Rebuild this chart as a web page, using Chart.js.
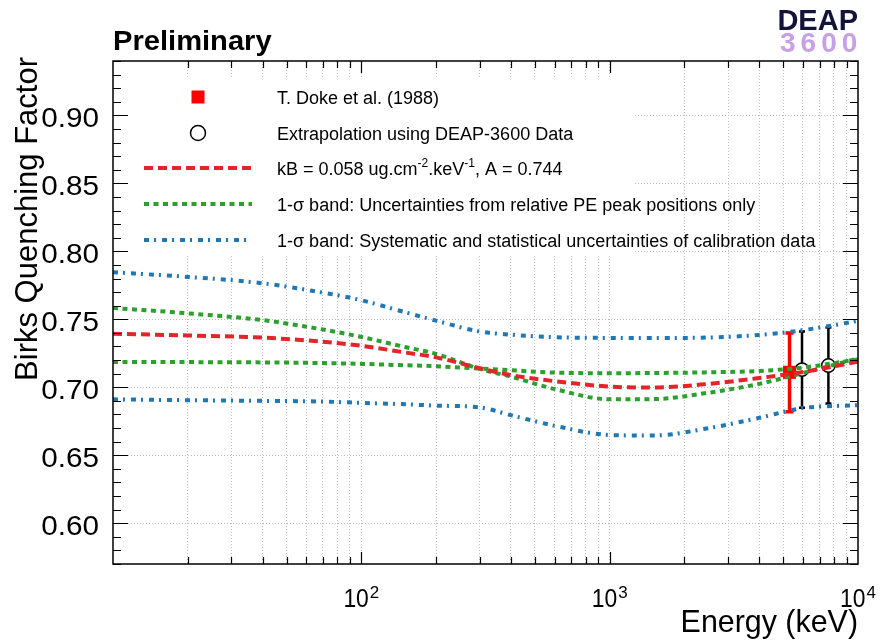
<!DOCTYPE html>
<html>
<head>
<meta charset="utf-8">
<script src="https://cdn.jsdelivr.net/npm/chart.js@4.4.1/dist/chart.umd.min.js"></script>
<style>
  html, body { margin: 0; padding: 0; background: #fff; }
  canvas { display: block; }
</style>
</head>
<body>
<canvas id="c" width="882" height="641"></canvas>
<script>
const energy = [10, 20, 40, 70, 100, 150, 200, 300, 400, 600, 1000, 1500, 2500, 4000, 6000, 10000];
const birksFit = [0.7394, 0.7381, 0.7365, 0.7335, 0.7305, 0.7256, 0.7220, 0.7140, 0.7090, 0.7045, 0.7005, 0.6998, 0.7025, 0.7068, 0.7112, 0.7188];
const peakBandA = [0.7583, 0.7544, 0.7494, 0.7425, 0.7370, 0.7296, 0.7245, 0.7135, 0.7078, 0.6987, 0.6912, 0.6913, 0.6960, 0.7025, 0.7105, 0.7212];
const peakBandB = [0.7185, 0.7185, 0.7183, 0.7178, 0.7172, 0.7162, 0.7155, 0.7137, 0.7125, 0.7108, 0.7103, 0.7105, 0.7110, 0.7120, 0.7145, 0.7205];
const calibBandUp = [0.7846, 0.7812, 0.7765, 0.7696, 0.7640, 0.7552, 0.7490, 0.7410, 0.7387, 0.7368, 0.7363, 0.7362, 0.7366, 0.7385, 0.7420, 0.7488];
const calibBandLow = [0.6911, 0.6905, 0.6900, 0.6895, 0.6885, 0.6875, 0.6865, 0.6852, 0.6795, 0.6717, 0.6649, 0.6645, 0.6699, 0.6775, 0.6847, 0.6868];

// measured points
const dokeEnergy = [5300];
const dokeValue = [0.711];
const dokeError = [0.029];
const extrapEnergy = [5950, 7600];
const extrapValue = [0.713, 0.716];
const extrapError = [0.028, 0.028];

// axes
const xTicks = [20, 30, 40, 50, 60, 70, 80, 90, 100, 200, 300, 400, 500, 600, 700, 800, 900,
                1000, 2000, 3000, 4000, 5000, 6000, 7000, 8000, 9000];
const xMajor = [100, 1000];
const xLabelValues = [100, 1000, 10000];
const xLabelExps = ['2', '3', '4'];
const yTicks = [0.60, 0.65, 0.70, 0.75, 0.80, 0.85, 0.90];
const yLabels = ['0.60', '0.65', '0.70', '0.75', '0.80', '0.85', '0.90'];

const FONT = "'Liberation Sans', Arial, Helvetica, sans-serif";
const RED = '#e5232a', GREEN = '#2ca02c', BLUE = '#1f77b4';

function pts(xs, ys) {
  return xs.map((x, i) => ({ x: x, y: ys[i] }));
}

function txt(ctx, s, x, y, size, o) {
  o = o || {};
  ctx.save();
  ctx.font = (o.bold ? 'bold ' : '') + size + 'px ' + FONT;
  ctx.fillStyle = o.color || '#000';
  ctx.textAlign = o.align || 'left';
  ctx.textBaseline = 'alphabetic';
  if (o.spacing) ctx.letterSpacing = o.spacing + 'px';
  ctx.translate(x, y);
  if (o.rotate) ctx.rotate(o.rotate);
  ctx.scale(o.sx || 1, 1);
  ctx.fillText(s, 0, 0);
  const w = ctx.measureText(s).width * (o.sx || 1);
  ctx.restore();
  return w;
}

const curve = (label, data, color, dash) => ({
  label: label,
  data: pts(energy, data),
  borderColor: color,
  borderWidth: 4,
  borderDash: dash,
  borderCapStyle: 'butt',
  pointRadius: 0,
  fill: false,
  cubicInterpolationMode: 'monotone',
  order: 1
});

// ROOT style frame, ticks, texts, legend box and error bars
const rootStyle = {
  id: 'rootStyle',
  beforeDatasetsDraw(chart) {
    const ctx = chart.ctx;
    const xs = chart.scales.x, ys = chart.scales.y;
    // legend box hides the grid
    ctx.save();
    ctx.fillStyle = '#fff';
    ctx.fillRect(chart.chartArea.left + 1, 79, 520, 176);
    ctx.restore();

    // error bars
    const bars = (E, V, err, color, w, r, cap) => {
      ctx.save();
      ctx.strokeStyle = color;
      ctx.lineWidth = w;
      E.forEach((e, i) => {
        const px = xs.getPixelForValue(e);
        const py = ys.getPixelForValue(V[i]);
        const top = ys.getPixelForValue(V[i] + err[i]);
        const bot = ys.getPixelForValue(V[i] - err[i]);
        ctx.beginPath();
        ctx.moveTo(px, top); ctx.lineTo(px, py - r);
        ctx.moveTo(px, py + r); ctx.lineTo(px, bot);
        ctx.moveTo(px - cap, top); ctx.lineTo(px + cap, top);
        ctx.moveTo(px - cap, bot); ctx.lineTo(px + cap, bot);
        ctx.stroke();
      });
      ctx.restore();
    };
    bars(dokeEnergy, dokeValue, dokeError, '#ff0000', 3.5, 0, 4);
    bars(extrapEnergy, extrapValue, extrapError, '#000', 2.5, 6.7, 3);
  },
  afterDraw(chart) {
    const ctx = chart.ctx;
    const a = chart.chartArea;
    const xs = chart.scales.x, ys = chart.scales.y;

    // ticks
    ctx.save();
    ctx.strokeStyle = '#000';
    ctx.lineWidth = 1.2;
    ctx.beginPath();
    xTicks.forEach(v => {
      const px = Math.round(xs.getPixelForValue(v)) + 0.5;
      const len = xMajor.includes(v) ? 12 : 7;
      ctx.moveTo(px, a.bottom); ctx.lineTo(px, a.bottom - len);
      ctx.moveTo(px, a.top); ctx.lineTo(px, a.top + len);
    });
    for (let k = 57; k <= 94; k++) {
      const v = k / 100;
      const py = Math.round(ys.getPixelForValue(v)) + 0.5;
      const len = (k % 5 === 0) ? 15 : 8;
      ctx.moveTo(a.left, py); ctx.lineTo(a.left + len, py);
      ctx.moveTo(a.right, py); ctx.lineTo(a.right - len, py);
    }
    ctx.stroke();
    // frame
    ctx.lineWidth = 1.5;
    ctx.strokeRect(a.left, a.top, a.right - a.left, a.bottom - a.top);
    ctx.restore();

    // y tick labels
    yTicks.forEach((v, i) => {
      const py = ys.getPixelForValue(v);
      txt(ctx, yLabels[i], 99, py + 11.5, 27, { align: 'right', sx: 1.1 });
    });
    // x tick labels 10^n
    xLabelValues.forEach((v, i) => {
      const px = xs.getPixelForValue(v);
      ctx.save();
      ctx.font = '26px ' + FONT;
      const w1 = ctx.measureText('10').width * 0.88;
      ctx.font = '17px ' + FONT;
      const w2 = ctx.measureText(xLabelExps[i]).width;
      ctx.restore();
      const x0 = px - (w1 + w2 + 1) / 2;
      txt(ctx, '10', x0, 607, 26, { sx: 0.88 });
      txt(ctx, xLabelExps[i], x0 + w1 + 1, 598, 17);
    });

    // axis titles
    txt(ctx, 'Energy (keV)', a.right, 632, 32, { align: 'right', sx: 0.95 });
    txt(ctx, 'Birks Quenching Factor', 37, 57, 31, { align: 'right', rotate: -Math.PI / 2 });

    // header
    txt(ctx, 'Preliminary', 113, 50, 28, { bold: true, sx: 1.04 });
    txt(ctx, 'DEAP', 858, 30, 29, { bold: true, align: 'right', color: '#14143a' });
    txt(ctx, '3600', 780, 52, 28, { bold: true, color: '#c8a0e8', spacing: 5 });

    // legend
    const ds = chart.data.datasets;
    const textX = 277, sampleX0 = 144, sampleX1 = 252, markX = 198;
    const rows = [97, 133, 168, 204, 240];
    ctx.save();
    ctx.fillStyle = '#ff0000';
    ctx.fillRect(markX - 6.5, rows[0] - 6.5, 13, 13);
    ctx.strokeStyle = '#000';
    ctx.lineWidth = 1.5;
    ctx.beginPath();
    ctx.arc(markX, rows[1], 7.5, 0, Math.PI * 2);
    ctx.stroke();
    [ds[2], ds[3], ds[5]].forEach((d, i) => {
      ctx.strokeStyle = d.borderColor;
      ctx.lineWidth = d.borderWidth;
      ctx.lineCap = 'butt';
      ctx.setLineDash(d.borderDash);
      ctx.beginPath();
      ctx.moveTo(sampleX0, rows[i + 2]);
      ctx.lineTo(sampleX1, rows[i + 2]);
      ctx.stroke();
    });
    ctx.restore();

    const base = r => r + 6.5;
    txt(ctx, 'T. Doke et al. (1988)', textX, base(rows[0]), 18);
    txt(ctx, 'Extrapolation using DEAP-3600 Data', textX, base(rows[1]), 18);
    let x = textX;
    const parts = [['kB = 0.058 ug.cm', false], ['-2', true], ['.keV', false], ['-1', true], [', A = 0.744', false]];
    parts.forEach(p => {
      if (p[1]) x += txt(ctx, p[0], x, base(rows[2]) - 8, 12);
      else x += txt(ctx, p[0], x, base(rows[2]), 18);
    });
    txt(ctx, '1-\u03c3 band: Uncertainties from relative PE peak positions only', textX, base(rows[3]), 18);
    txt(ctx, '1-\u03c3 band: Systematic and statistical uncertainties of calibration data', textX, base(rows[4]), 18);
  }
};

new Chart(document.getElementById('c'), {
  type: 'line',
  data: {
    datasets: [
      {
        label: 'T. Doke et al. (1988)',
        data: pts(dokeEnergy, dokeValue),
        showLine: false,
        pointStyle: 'rect',
        pointRadius: 9.2,
        backgroundColor: '#ff0000',
        borderWidth: 0,
        order: 5
      },
      {
        label: 'Extrapolation using DEAP-3600 Data',
        data: pts(extrapEnergy, extrapValue),
        showLine: false,
        pointStyle: 'circle',
        pointRadius: 6.7,
        backgroundColor: 'rgba(0,0,0,0)',
        borderColor: '#000',
        borderWidth: 1.5,
        order: 5
      },
      curve('kB fit', birksFit, RED, [9, 5]),
      curve('peak band', peakBandA, GREEN, [5, 4.5]),
      curve('peak band 2', peakBandB, GREEN, [5, 4.5]),
      curve('calibration band', calibBandUp, BLUE, [5, 5, 2, 6]),
      curve('calibration band 2', calibBandLow, BLUE, [5, 5, 2, 6])
    ]
  },
  options: {
    responsive: false,
    animation: false,
    events: [],
    layout: { padding: { left: 113, right: 24, top: 61, bottom: 77 } },
    scales: {
      x: {
        type: 'logarithmic',
        min: 10,
        max: 10000,
        afterBuildTicks: s => { s.ticks = xTicks.map(v => ({ value: v })); },
        ticks: { display: false },
        grid: { color: '#bdbdbd', lineWidth: 1, drawTicks: false },
        border: { display: false, dash: [1, 2] }
      },
      y: {
        type: 'linear',
        min: 0.57,
        max: 0.94,
        afterBuildTicks: s => { s.ticks = yTicks.map(v => ({ value: v })); },
        ticks: { display: false },
        grid: { color: '#bdbdbd', lineWidth: 1, drawTicks: false },
        border: { display: false, dash: [1, 2] }
      }
    },
    plugins: {
      legend: { display: false },
      tooltip: { enabled: false }
    }
  },
  plugins: [rootStyle]
});
</script>
</body>
</html>
